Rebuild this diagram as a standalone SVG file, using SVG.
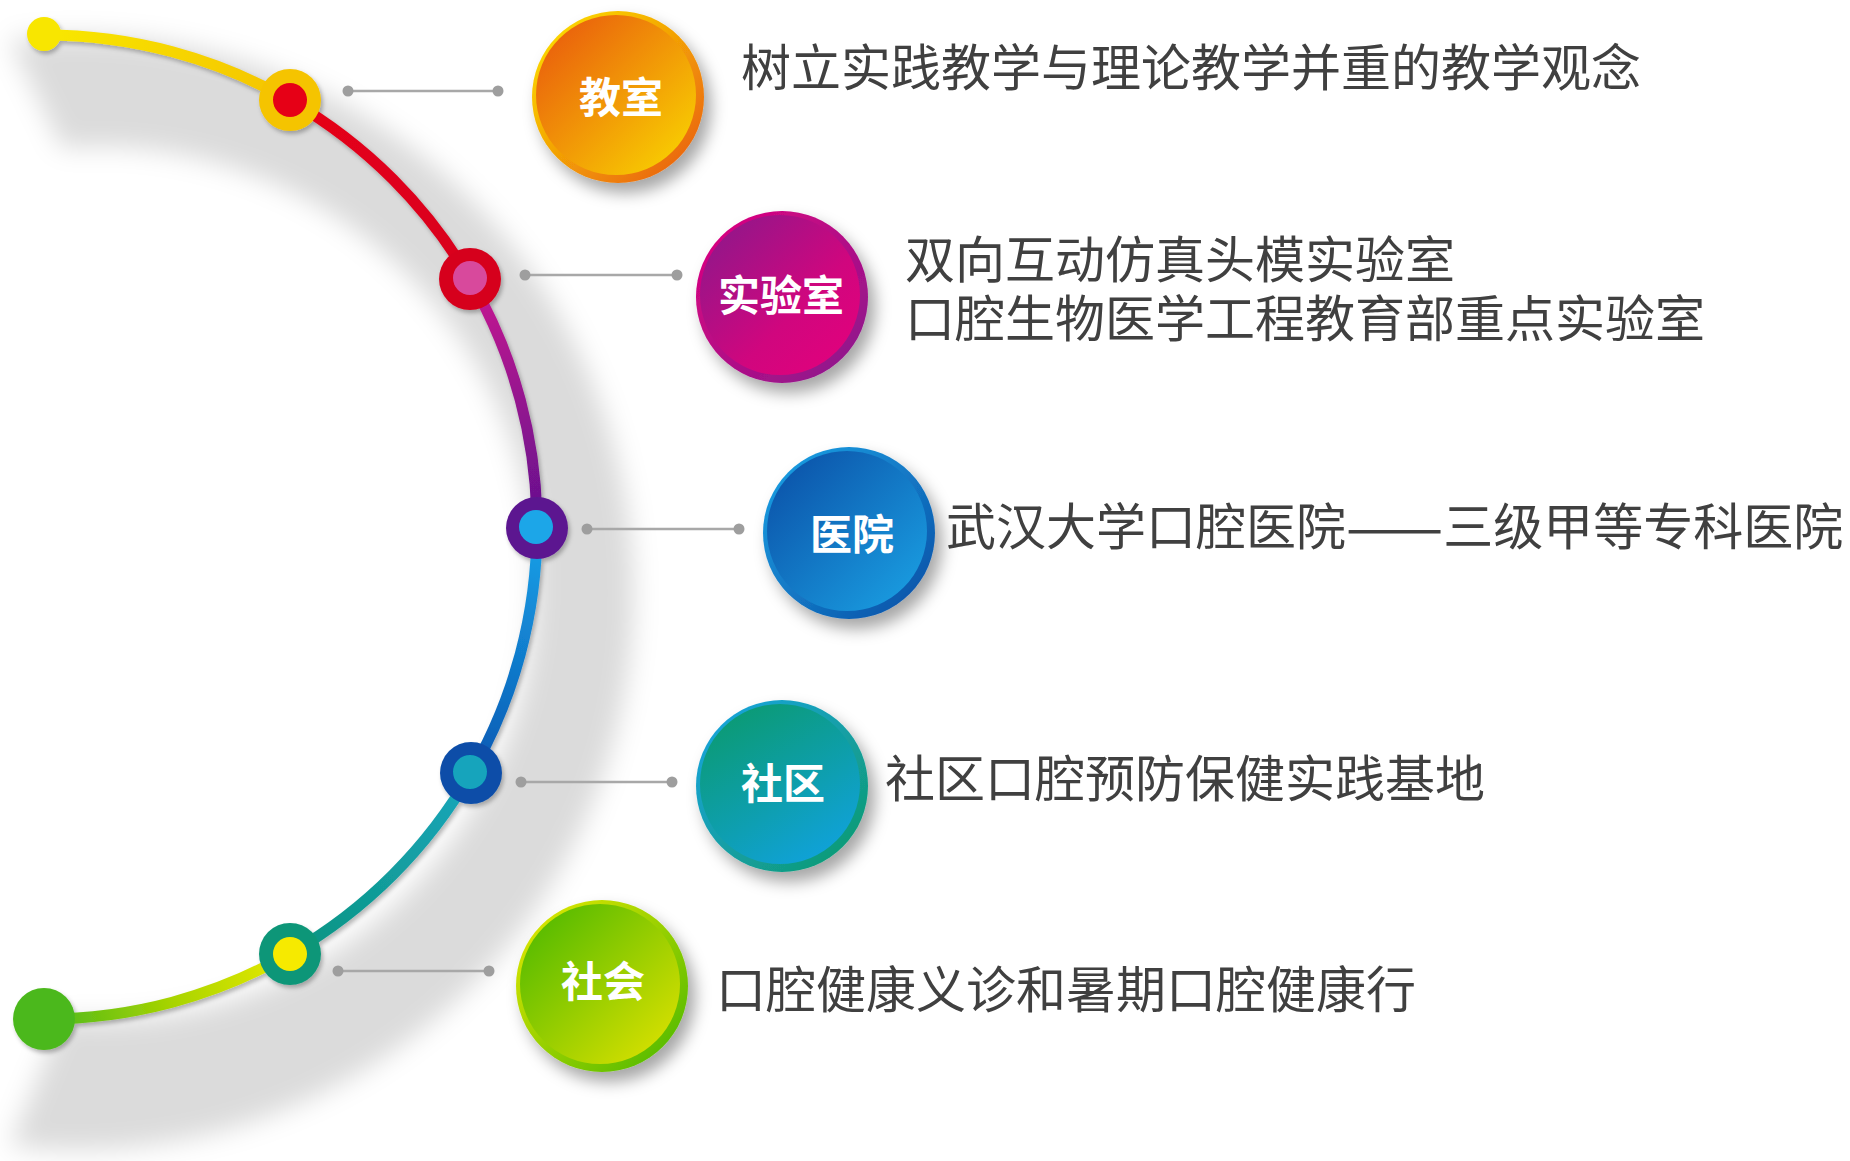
<svg xmlns="http://www.w3.org/2000/svg" width="1850" height="1161" viewBox="0 0 1850 1161">
<style>
.desc{font-family:"Noto Sans CJK SC","Liberation Sans",sans-serif;font-size:50px;fill:#404040;dominant-baseline:central}
.lbl{font-family:"Noto Sans CJK SC","Liberation Sans",sans-serif;font-size:42px;font-weight:700;fill:#ffffff;text-anchor:middle;dominant-baseline:central}
.conn{stroke:#a8a8a8;stroke-width:2.5;fill:none}
.cdot{fill:#9e9e9e}
.seg{fill:none;stroke-width:11;stroke-linecap:round}
</style>
<defs>
<filter id="bandBlur" x="-20%" y="-20%" width="140%" height="140%"><feGaussianBlur stdDeviation="13"/></filter>
<filter id="nodeShadow" x="-30%" y="-30%" width="170%" height="170%"><feDropShadow dx="7" dy="10" stdDeviation="8" flood-color="#000" flood-opacity="0.35"/></filter>
<filter id="lineShadow" x="-20%" y="-20%" width="140%" height="140%"><feDropShadow dx="2" dy="3" stdDeviation="2" flood-color="#000" flood-opacity="0.28"/></filter>
<linearGradient id="s1" gradientUnits="userSpaceOnUse" x1="45" y1="35" x2="291" y2="101"><stop offset="0" stop-color="#f8e800"/><stop offset="1" stop-color="#f5c300"/></linearGradient>
<linearGradient id="s2" gradientUnits="userSpaceOnUse" x1="291" y1="101" x2="471" y2="281"><stop offset="0" stop-color="#e60018"/><stop offset="1" stop-color="#d8001e"/></linearGradient>
<linearGradient id="s3" gradientUnits="userSpaceOnUse" x1="471" y1="281" x2="537" y2="527"><stop offset="0" stop-color="#c81890"/><stop offset="1" stop-color="#62108e"/></linearGradient>
<linearGradient id="s4" gradientUnits="userSpaceOnUse" x1="537" y1="527" x2="471" y2="773"><stop offset="0" stop-color="#18a2e8"/><stop offset="1" stop-color="#0a58b2"/></linearGradient>
<linearGradient id="s5" gradientUnits="userSpaceOnUse" x1="471" y1="773" x2="291" y2="953"><stop offset="0" stop-color="#18a6bc"/><stop offset="1" stop-color="#0c9480"/></linearGradient>
<linearGradient id="s6" gradientUnits="userSpaceOnUse" x1="291" y1="953" x2="45" y2="1019"><stop offset="0" stop-color="#eaea00"/><stop offset="0.5" stop-color="#a8d400"/><stop offset="1" stop-color="#4cb81c"/></linearGradient>
<linearGradient id="r1" x1="0" y1="0" x2="1" y2="1"><stop offset="0" stop-color="#fde800"/><stop offset="1" stop-color="#e8560c"/></linearGradient>
<linearGradient id="i1" x1="0" y1="0" x2="1" y2="1"><stop offset="0" stop-color="#e8520e"/><stop offset="1" stop-color="#fadb00"/></linearGradient>
<linearGradient id="r2" x1="0" y1="0" x2="1" y2="1"><stop offset="0" stop-color="#e2007e"/><stop offset="1" stop-color="#861a8e"/></linearGradient>
<linearGradient id="i2" x1="0" y1="0" x2="1" y2="1"><stop offset="0" stop-color="#861a8c"/><stop offset="0.6" stop-color="#d0067e"/><stop offset="1" stop-color="#e6007c"/></linearGradient>
<linearGradient id="r3" x1="0" y1="0" x2="1" y2="1"><stop offset="0" stop-color="#1ca4e6"/><stop offset="1" stop-color="#0a4ca4"/></linearGradient>
<linearGradient id="i3" x1="0" y1="0" x2="1" y2="1"><stop offset="0" stop-color="#0a4ca4"/><stop offset="1" stop-color="#1ba4e6"/></linearGradient>
<linearGradient id="r4" x1="0" y1="0" x2="1" y2="1"><stop offset="0" stop-color="#1aa4e6"/><stop offset="1" stop-color="#0e9a68"/></linearGradient>
<linearGradient id="i4" x1="0.2" y1="0" x2="0.8" y2="1"><stop offset="0" stop-color="#0b9a70"/><stop offset="1" stop-color="#10a2de"/></linearGradient>
<linearGradient id="r5" x1="0" y1="0" x2="1" y2="1"><stop offset="0" stop-color="#eaea00"/><stop offset="1" stop-color="#46b600"/></linearGradient>
<linearGradient id="i5" x1="0" y1="0" x2="1" y2="1"><stop offset="0" stop-color="#46b600"/><stop offset="1" stop-color="#e6e400"/></linearGradient>
</defs>

<rect width="1850" height="1161" fill="#ffffff"/>

<!-- soft shadow band behind the arc -->
<path d="M 10 40 A 557 557 0 1 1 10 1146 L 62 1019 A 437 437 0 1 0 62 148 Z" fill="#000" fill-opacity="0.14" filter="url(#bandBlur)"/>

<!-- arc timeline -->
<g id="arc" filter="url(#lineShadow)">
<path class="seg" stroke="url(#s1)" d="M 45 35 A 492 492 0 0 1 291 101"/>
<path class="seg" stroke="url(#s2)" d="M 291 101 A 492 492 0 0 1 471 281"/>
<path class="seg" stroke="url(#s3)" d="M 471 281 A 492 492 0 0 1 537 527"/>
<path class="seg" stroke="url(#s4)" d="M 537 527 A 492 492 0 0 1 471 773"/>
<path class="seg" stroke="url(#s5)" d="M 471 773 A 492 492 0 0 1 291 953"/>
<path class="seg" stroke="url(#s6)" d="M 291 953 A 492 492 0 0 1 45 1019"/>
<circle cx="44" cy="34" r="17" fill="#f8e600"/>
<circle cx="44" cy="1019" r="31" fill="#4cb81c"/>
<circle cx="290" cy="100" r="31" fill="#f5c400"/><circle cx="290" cy="100" r="17" fill="#e60018"/>
<circle cx="470" cy="279" r="31" fill="#d6001e"/><circle cx="470" cy="278" r="17" fill="#d84a9c"/>
<circle cx="537" cy="528" r="31" fill="#5c1690"/><circle cx="536" cy="527" r="17" fill="#1aa6e8"/>
<circle cx="471" cy="773" r="31" fill="#0a4ea8"/><circle cx="470" cy="772" r="17" fill="#13a4bc"/>
<circle cx="290" cy="954" r="31" fill="#0c9678"/><circle cx="290" cy="954" r="17" fill="#f6ea00"/>
</g>

<!-- connectors -->
<g id="connectors">
<line class="conn" x1="348" y1="91" x2="498" y2="91"/><circle class="cdot" cx="348" cy="91" r="5.5"/><circle class="cdot" cx="498" cy="91" r="5.5"/>
<line class="conn" x1="525" y1="275" x2="677" y2="275"/><circle class="cdot" cx="525" cy="275" r="5.5"/><circle class="cdot" cx="677" cy="275" r="5.5"/>
<line class="conn" x1="587" y1="529" x2="739" y2="529"/><circle class="cdot" cx="587" cy="529" r="5.5"/><circle class="cdot" cx="739" cy="529" r="5.5"/>
<line class="conn" x1="521" y1="782" x2="672" y2="782"/><circle class="cdot" cx="521" cy="782" r="5.5"/><circle class="cdot" cx="672" cy="782" r="5.5"/>
<line class="conn" x1="338" y1="971" x2="489" y2="971"/><circle class="cdot" cx="338" cy="971" r="5.5"/><circle class="cdot" cx="489" cy="971" r="5.5"/>
</g>

<!-- nodes -->
<g id="node-jiaoshi">
<circle cx="618" cy="97" r="86" fill="url(#r1)" filter="url(#nodeShadow)"/>
<circle cx="616" cy="95" r="80" fill="url(#i1)"/>
<text class="lbl" x="621" y="94">教室</text>
<text class="desc" x="741" y="64">树立实践教学与理论教学并重的教学观念</text>
</g>
<g id="node-shiyanshi">
<circle cx="782" cy="297" r="86" fill="url(#r2)" filter="url(#nodeShadow)"/>
<circle cx="780" cy="295" r="80" fill="url(#i2)"/>
<text class="lbl" x="781" y="292">实验室</text>
<text class="desc"><tspan x="905" y="256">双向互动仿真头模实验室</tspan><tspan x="905" y="315">口腔生物医学工程教育部重点实验室</tspan></text>
</g>
<g id="node-yiyuan">
<circle cx="849" cy="533" r="86" fill="url(#r3)" filter="url(#nodeShadow)"/>
<circle cx="847" cy="531" r="80" fill="url(#i3)"/>
<text class="lbl" x="852" y="531">医院</text>
<text class="desc" x="946" y="523">武汉大学口腔医院<tspan font-size="58">——</tspan>三级甲等专科医院</text>
</g>
<g id="node-shequ">
<circle cx="782" cy="786" r="86" fill="url(#r4)" filter="url(#nodeShadow)"/>
<circle cx="780" cy="784" r="80" fill="url(#i4)"/>
<text class="lbl" x="783" y="780">社区</text>
<text class="desc" x="885" y="775">社区口腔预防保健实践基地</text>
</g>
<g id="node-shehui">
<circle cx="602" cy="986" r="86" fill="url(#r5)" filter="url(#nodeShadow)"/>
<circle cx="600" cy="984" r="80" fill="url(#i5)"/>
<text class="lbl" x="603" y="978">社会</text>
<text class="desc" x="716" y="986">口腔健康义诊和暑期口腔健康行</text>
</g>
</svg>
